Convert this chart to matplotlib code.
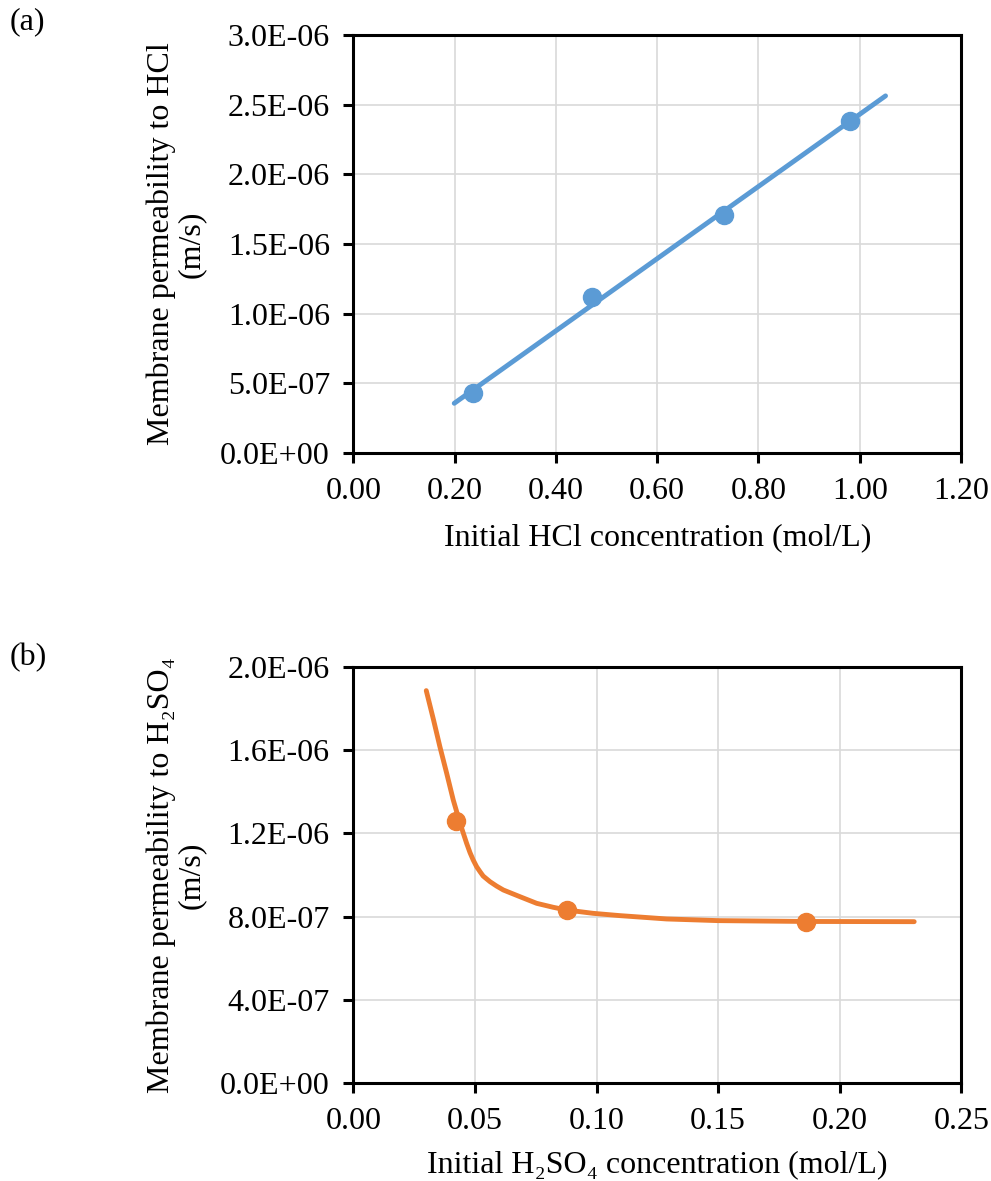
import numpy as np
import matplotlib
matplotlib.use('Agg')
import matplotlib.pyplot as plt
from matplotlib.ticker import FuncFormatter, MultipleLocator

plt.rcParams['font.family'] = ['Liberation Serif', 'DejaVu Serif']

# (a) HCl data
hcl_conc = [0.236, 0.471, 0.731, 0.980]
hcl_perm = [0.428e-6, 1.117e-6, 1.708e-6, 2.385e-6]
# linear trend line end points
hcl_fit_x = [0.199, 1.051]
hcl_fit_y = [0.356e-6, 2.562e-6]

# (b) H2SO4 data
h2so4_conc = [0.0422, 0.0877, 0.186]
h2so4_perm = [1.26e-6, 0.832e-6, 0.776e-6]
# fitted curve
h2so4_fit_x = [0.030, 0.033, 0.0356, 0.0384, 0.0411, 0.0439, 0.0466, 0.048,
               0.0493, 0.0507, 0.0521, 0.0534, 0.0562, 0.0589, 0.0617, 0.0685,
               0.0754, 0.0822, 0.0877, 0.0986, 0.1096, 0.1288, 0.150, 0.186,
               0.2306]
h2so4_fit_y = [1.885e-6, 1.744e-6, 1.616e-6, 1.488e-6, 1.360e-6, 1.248e-6,
               1.152e-6, 1.107e-6, 1.072e-6, 1.040e-6, 1.016e-6, 0.995e-6,
               0.968e-6, 0.947e-6, 0.928e-6, 0.896e-6, 0.864e-6, 0.845e-6,
               0.832e-6, 0.816e-6, 0.805e-6, 0.789e-6, 0.781e-6, 0.777e-6,
               0.776e-6]

blue = '#5B9BD5'
orange = '#ED7D31'
fs = 23

fig = plt.figure(figsize=(9.91, 11.81), dpi=100)
ax1 = fig.add_axes([0.3567, 0.6165, 0.613, 0.354])
ax2 = fig.add_axes([0.3565, 0.0827, 0.6136, 0.3528])


def style(ax):
    ax.grid(True, color='#d9d9d9', linewidth=1.2, zorder=0)
    ax.set_axisbelow(True)
    for s in ax.spines.values():
        s.set_linewidth(2.2)
        s.set_color('black')
    ax.tick_params(direction='out', length=7, width=2.2, labelsize=fs, pad=10)
    ax.yaxis.set_major_formatter(FuncFormatter(lambda v, p: f"{v:.1E}"))
    ax.xaxis.set_major_formatter(FuncFormatter(lambda v, p: f"{v:.2f}"))


ax1.plot(hcl_fit_x, hcl_fit_y, color=blue, linewidth=3.5, solid_capstyle='round', zorder=2)
ax1.plot(hcl_conc, hcl_perm, 'o', color=blue, markersize=13, zorder=3)
ax1.set_xlim(0, 1.2)
ax1.set_ylim(0, 3.0e-6)
ax1.xaxis.set_major_locator(MultipleLocator(0.2))
ax1.yaxis.set_major_locator(MultipleLocator(0.5e-6))
style(ax1)
ax1.set_xlabel('Initial HCl concentration (mol/L)', fontsize=fs, labelpad=13)
ax1.set_ylabel('Membrane permeability to HCl\n(m/s)', fontsize=fs, labelpad=10,
               linespacing=1.05)

ax2.plot(h2so4_fit_x, h2so4_fit_y, color=orange, linewidth=3.5, solid_capstyle='round',
         solid_joinstyle='round', zorder=2)
ax2.plot(h2so4_conc, h2so4_perm, 'o', color=orange, markersize=13, zorder=3)
ax2.set_xlim(0, 0.25)
ax2.set_ylim(0, 2.0e-6)
ax2.xaxis.set_major_locator(MultipleLocator(0.05))
ax2.yaxis.set_major_locator(MultipleLocator(0.4e-6))
style(ax2)
ax2.set_xlabel('Initial H\u2082SO\u2084 concentration (mol/L)', fontsize=fs, labelpad=10)
ax2.set_ylabel('Membrane permeability to H\u2082SO\u2084\n(m/s)', fontsize=fs, labelpad=10,
               linespacing=1.05)

fig.text(0.01, 0.982, '(a)', fontsize=fs, va='center', ha='left')
fig.text(0.01, 0.443, '(b)', fontsize=fs, va='center', ha='left')

fig.savefig('out.png', dpi=100)
plt.close(fig)
